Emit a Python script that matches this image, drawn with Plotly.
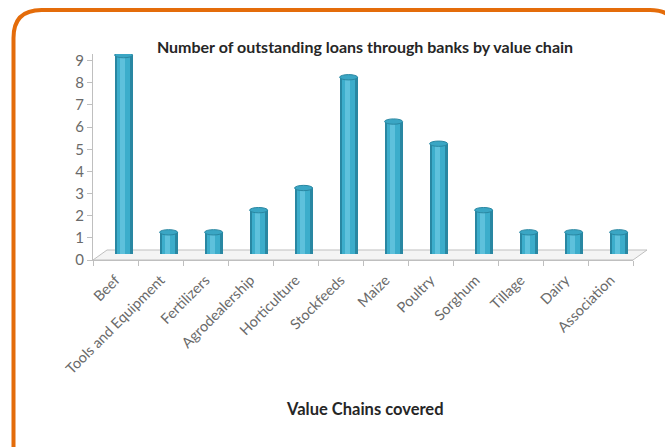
import plotly.graph_objects as go

categories = ["Beef", "Tools and Equipment", "Fertilizers", "Agrodealership", "Horticulture",
              "Stockfeeds", "Maize", "Poultry", "Sorghum", "Tillage", "Dairy", "Association"]
loans = [9, 1, 1, 2, 3, 8, 6, 5, 2, 1, 1, 1]
y_ticks = list(range(0, 10))

W, H = 665, 447
L, R, T, B = 93, 32, 54, 187
PW, PH = W - L - R, H - T - B
YMAX = 9.3
BASE = 0.25       # 3D depth lift of the bar bases
SHIFT = 0.18      # 3D depth shift of bar centres (category units)
BW = 0.40

def px(x):
    return (x - L) / PW

def py(y):
    return (H - B - y) / PH

fig = go.Figure()
layers = [(BW, "#2987A2"), (0.30, "#3CADCB"), (0.10, "#5EC1DC")]
for w, col in layers:
    centre = SHIFT - (0.03 if w == 0.10 else 0)
    fig.add_trace(go.Bar(
        x=categories, y=loans, base=BASE, width=w, offset=centre - w / 2,
        marker=dict(color=col, line=dict(width=0)), hoverinfo="skip", showlegend=False))

shapes = []
# floor of the 3D chart
shapes.append(dict(type="path", xref="paper", yref="paper",
                   path=f"M {px(93)},{py(260)} L {px(107)},{py(250)} L {px(647)},{py(250)} L {px(633)},{py(260)} Z",
                   fillcolor="#F4F4F4", line=dict(color="#BFBFBF", width=1), layer="below"))
# bar caps
for i, v in enumerate(loans):
    shapes.append(dict(type="circle", xref="x", yref="y",
                       x0=i + SHIFT - BW / 2, x1=i + SHIFT + BW / 2,
                       y0=v + BASE - 0.12, y1=v + BASE + 0.12,
                       fillcolor="#3AA6C4", line=dict(color="#2987A2", width=1)))
# orange rounded border
r = 28
x0, y0, x1 = 13.5, 10, 678
shapes.append(dict(type="path", xref="paper", yref="paper",
                   path=(f"M {px(x0)},{py(H + 20)} L {px(x0)},{py(y0 + r)} "
                         f"Q {px(x0)},{py(y0)} {px(x0 + r)},{py(y0)} "
                         f"L {px(x1 - r)},{py(y0)} Q {px(x1)},{py(y0)} {px(x1)},{py(y0 + r)} "
                         f"L {px(x1)},{py(H + 20)}"),
                   line=dict(color="#E46C0A", width=4)))

fig.update_layout(
    width=W, height=H, margin=dict(l=L, r=R, t=T, b=B),
    paper_bgcolor="white", plot_bgcolor="white",
    barmode="overlay", bargap=0,
    shapes=shapes,
    font=dict(family="Lato, Open Sans, sans-serif", color="#595959"),
    title=dict(text="<b>Number of outstanding loans through banks by value chain</b>",
               x=365 / W, xref="container", xanchor="center",
               y=1 - 47 / H, yref="container", yanchor="middle",
               font=dict(size=16, color="#262626", family="Lato, sans-serif")),
    xaxis=dict(type="category", tickson="boundaries", ticks="outside", ticklen=5,
               tickcolor="#BFBFBF", showline=True, linecolor="#BFBFBF", linewidth=1,
               tickangle=-45, tickfont=dict(size=14.5, color="#6A6A6A"),
               ticklabelstandoff=5,
               showgrid=False, range=[-0.5, len(categories) - 0.5], fixedrange=True),
    yaxis=dict(range=[0, YMAX], tickvals=y_ticks, ticks="outside", ticklen=5,
               tickcolor="#BFBFBF", showline=True, linecolor="#BFBFBF", linewidth=1,
               tickfont=dict(size=15, color="#6A6A6A"), showgrid=False, zeroline=False,
               fixedrange=True),
    annotations=[dict(text="<b>Value Chains covered</b>", xref="paper", yref="paper",
                      x=px(365), y=py(409), xanchor="center", yanchor="middle",
                      showarrow=False, font=dict(size=16.5, color="#262626"))],
)

fig.write_html("out.html", config={"displayModeBar": False},
               post_script="document.body.style.margin='0';")
